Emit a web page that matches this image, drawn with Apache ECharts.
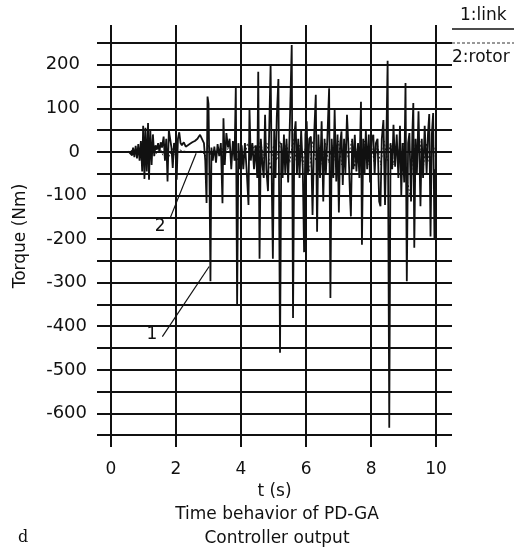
<!DOCTYPE html>
<html><head><meta charset="utf-8">
<script src="https://cdn.jsdelivr.net/npm/echarts@6/dist/echarts.min.js"></script>
<style>html,body{margin:0;padding:0;background:#fff;}#c{width:516px;height:555px;}</style>
</head><body><div id="c"></div>
<script>
// time (s) of link torque samples
const linkT = [0,0.55,0.60,0.65,0.68,0.72,0.76,0.80,0.84,0.88,0.92,0.96,0.99,1.03,1.06,1.10,1.14,1.17,1.21,1.25,1.29,1.33,1.37,1.41,1.45,1.49,1.53,1.57,1.62,1.66,1.70,1.74,1.78,1.82,1.86,1.90,1.94,1.98,2.02,2.06,2.10,2.14,2.18,2.24,2.30,2.36,2.42,2.50,2.58,2.66,2.74,2.80,2.86,2.90,2.94,2.97,3.00,3.03,3.06,3.09,3.13,3.18,3.23,3.28,3.33,3.38,3.43,3.46,3.50,3.55,3.60,3.65,3.70,3.75,3.80,3.84,3.88,3.92,3.97,4.02,4.07,4.12,4.18,4.23,4.26,4.30,4.35,4.40,4.45,4.50,4.53,4.57,4.61,4.66,4.70,4.74,4.78,4.83,4.87,4.91,4.95,4.98,5.02,5.06,5.10,5.15,5.20,5.24,5.28,5.32,5.36,5.40,5.45,5.50,5.56,5.60,5.64,5.68,5.72,5.76,5.80,5.85,5.90,5.94,5.98,6.02,6.06,6.10,6.15,6.20,6.25,6.30,6.34,6.38,6.43,6.48,6.53,6.57,6.61,6.66,6.71,6.75,6.79,6.84,6.88,6.93,6.97,7.01,7.05,7.09,7.13,7.17,7.21,7.26,7.30,7.35,7.38,7.42,7.46,7.50,7.55,7.60,7.64,7.69,7.72,7.76,7.80,7.84,7.88,7.93,7.97,8.02,8.07,8.11,8.15,8.20,8.25,8.29,8.33,8.38,8.43,8.47,8.51,8.56,8.60,8.65,8.69,8.74,8.79,8.84,8.89,8.93,8.97,9.02,9.06,9.10,9.14,9.18,9.23,9.27,9.30,9.33,9.37,9.41,9.46,9.52,9.56,9.60,9.65,9.71,9.75,9.79,9.83,9.87,9.91,9.95,9.98,10.0];
// link torque (Nm)
const linkV = [0,0,2,-8,10,-12,14,-15,18,-20,25,-45,60,-62,55,-45,66,-64,50,-30,40,-10,15,5,20,0,22,10,35,-20,30,-68,50,53,10,-37,20,15,-64,30,45,20,15,22,12,15,18,22,25,30,39,35,20,-20,-117,127,110,-60,-297,10,-20,12,-25,18,-10,20,-118,77,-30,43,10,30,-40,25,-20,150,-351,20,-40,15,-40,20,-50,-122,100,-20,20,-40,15,-60,184,-245,30,-30,-60,85,-40,-90,60,200,-91,-245,50,-60,80,167,-461,20,-60,40,-50,30,-70,60,245,-381,40,70,-53,30,-60,50,-40,-230,40,70,-50,30,35,-145,40,131,-183,40,-60,70,-114,30,-50,40,146,-335,30,-60,96,-68,40,-139,20,47,-76,30,-50,85,20,-95,-148,30,-40,39,-45,20,-60,115,-213,30,-50,50,-40,40,-70,30,39,-53,20,30,-114,-125,30,73,-122,20,209,-633,20,-40,62,-34,40,-60,60,-99,20,-70,158,-297,20,43,-114,40,112,-220,30,-50,93,-125,30,-60,60,-50,40,87,-194,40,89,-200,-40,-50];
// time (s) of rotor torque samples
const rotorT = [0,0.5,0.7,0.8,0.9,1.0,1.1,1.2,1.3,1.4,1.5,1.6,1.7,1.8,1.9,2.0,2.1,2.2,2.4,2.6,2.8,2.9,3.0,3.1,3.2,3.3,3.4,3.5,3.6,3.7,3.8,3.9,4.0,4.1,4.2,4.3,4.4,4.5,4.6,4.7,4.8,4.9,5.0,5.1,5.2,5.3,5.4,5.5,5.6,5.7,5.8,5.9,6.0,6.1,6.2,6.3,6.4,6.5,6.6,6.7,6.8,6.9,7.0,7.1,7.2,7.3,7.4,7.5,7.6,7.7,7.8,7.9,8.0,8.1,8.2,8.3,8.4,8.5,8.6,8.7,8.8,8.9,9.0,9.1,9.2,9.3,9.4,9.5,9.6,9.7,9.8,9.9,10.0];
// rotor torque (Nm)
const rotorV = [0,0,5,-5,10,-15,12,-10,15,-5,10,-8,12,-10,8,-12,5,2,0,0,2,-10,15,-15,5,-5,10,-10,8,-5,12,-20,10,-15,20,-10,15,-20,25,-15,20,-40,15,-20,25,-15,20,-25,30,-20,15,-30,20,-45,25,-20,15,-30,20,-25,15,-20,25,-30,20,-15,25,-35,20,-15,25,-30,20,-25,15,-30,25,-20,20,-30,15,-25,20,-60,-100,20,-15,25,-40,20,-30,25,-20];
// axis tick labels
const xTicks = [0,2,4,6,8,10];
const yTicks = [-600,-500,-400,-300,-200,-100,0,100,200];
// gridline positions
const xGrid = [0,2,4,6,8,10];
const yGrid = [-650,-600,-550,-500,-450,-400,-350,-300,-250,-200,-150,-100,-50,0,50,100,150,200,250];

const link = linkT.map((t,i)=>[t,linkV[i]]);
const rotor = rotorT.map((t,i)=>[t,rotorV[i]]);
const FONT = 'DejaVu Sans';
const LBL = {fontFamily:FONT,fontSize:18,color:'#111'};
const chart = echarts.init(document.getElementById('c'), null, {renderer:'canvas'});
chart.setOption({
  animation:false,
  backgroundColor:'#fff',
  textStyle:{fontFamily:FONT,color:'#111'},
  grid:{left:97,right:64,top:25,bottom:108,containLabel:false},
  title:[
    {text:'Time behavior of PD-GA\nController output',left:272,top:498,textAlign:'center',
     textStyle:{fontFamily:FONT,fontSize:17,fontWeight:'normal',color:'#111',lineHeight:24}},
    {text:'d',left:13,top:525,textStyle:{fontFamily:'DejaVu Serif',fontSize:16,fontWeight:'normal',color:'#111'}}
  ],
  xAxis:{type:'value',min:-0.43,max:10.49,name:'t (s)',nameLocation:'middle',nameGap:35,
    nameTextStyle:{fontFamily:FONT,fontSize:17,color:'#111'},
    axisLine:{show:false},axisTick:{show:false},splitLine:{show:false},
    axisLabel:Object.assign({customValues:xTicks,margin:14},LBL,{fontSize:17})},
  yAxis:{type:'value',min:-677,max:291,name:'Torque (Nm)',nameLocation:'middle',nameGap:68,
    nameTextStyle:{fontFamily:FONT,fontSize:17,color:'#111'},
    axisLine:{show:false},axisTick:{show:false},splitLine:{show:false},
    axisLabel:Object.assign({customValues:yTicks,margin:10,
      formatter:v=>v>=0?'{p|'+v+'}':'{n|'+v+'}',
      rich:{p:Object.assign({padding:[0,7,0,0]},LBL),n:Object.assign({},LBL)}},LBL)},
  graphic:[
    {type:'text',left:460,top:7,style:{text:'1:link',font:'17px '+FONT,fill:'#111'}},
    {type:'line',shape:{x1:452,y1:29,x2:514,y2:29},style:{stroke:'#111',lineWidth:1.5}},
    {type:'line',shape:{x1:452,y1:43,x2:514,y2:43},style:{stroke:'#333',lineWidth:1,lineDash:[3,2]}},
    {type:'text',left:452,top:49,style:{text:'2:rotor',font:'17px '+FONT,fill:'#111'}}
  ],
  series:[
    {type:'line',name:'grid',data:[[0,0]],symbol:'none',lineStyle:{width:0},silent:true,z:1,
     markLine:{silent:true,symbol:'none',label:{show:false},animation:false,
       lineStyle:{color:'#111',width:2,type:'solid'},
       data:[...xGrid.map(v=>({xAxis:v})),...yGrid.map(v=>({yAxis:v}))]}},
    {type:'line',name:'2:rotor',data:rotor,symbol:'none',z:3,
     lineStyle:{color:'#222',width:1,type:[2,2]},
     markLine:{silent:true,symbol:'none',animation:false,
       lineStyle:{color:'#111',width:1.2,type:'solid'},label:{show:false},
       data:[[{coord:[1.82,-152]},{coord:[2.62,-3]}]]},
     markPoint:{silent:true,symbol:'circle',symbolSize:1,itemStyle:{color:'rgba(0,0,0,0)'},animation:false,
       label:{show:true,position:'inside',formatter:'2',fontFamily:FONT,fontSize:17,color:'#111'},
       data:[{coord:[1.51,-171]}]}},
    {type:'line',name:'1:link',data:link,symbol:'none',z:4,
     lineStyle:{color:'#111',width:1.8},
     markLine:{silent:true,symbol:'none',animation:false,
       lineStyle:{color:'#111',width:1.2,type:'solid'},label:{show:false},
       data:[[{coord:[1.58,-424]},{coord:[3.02,-263]}]]},
     markPoint:{silent:true,symbol:'circle',symbolSize:1,itemStyle:{color:'rgba(0,0,0,0)'},animation:false,
       label:{show:true,position:'inside',formatter:'1',fontFamily:FONT,fontSize:17,color:'#111'},
       data:[{coord:[1.26,-420]}]}}
  ]
});
</script></body></html>
